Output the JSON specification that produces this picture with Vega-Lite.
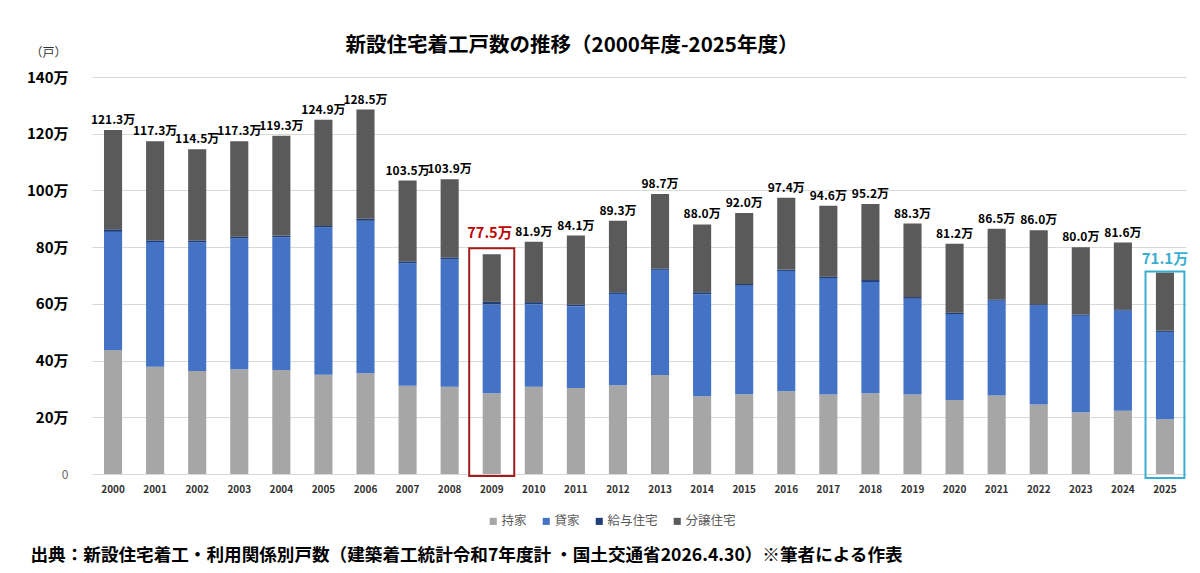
{
  "$schema": "https://vega.github.io/schema/vega-lite/v6.json",
  "autosize": {"type": "none"},
  "width": 1094,
  "height": 397,
  "padding": {"left": 92, "top": 77, "right": 14, "bottom": 99},
  "background": "white",
  "config": {
    "font": "Noto Sans CJK JP",
    "view": {"stroke": null}
  },
  "title": {
    "text": "新設住宅着工戸数の推移（2000年度-2025年度）",
    "fontSize": 20.5,
    "fontWeight": "bold",
    "color": "#000000",
    "anchor": "middle",
    "dx": -67,
    "offset": -30,
    "baseline": "bottom"
  },
  "datasets": {
    "segments": [
      {"year": "2000", "type": "持家", "value": 43.7}, {"year": "2000", "type": "貸家", "value": 41.7}, {"year": "2000", "type": "給与住宅", "value": 0.9}, {"year": "2000", "type": "分譲住宅", "value": 35.0},
      {"year": "2001", "type": "持家", "value": 37.8}, {"year": "2001", "type": "貸家", "value": 44.0}, {"year": "2001", "type": "給与住宅", "value": 0.6}, {"year": "2001", "type": "分譲住宅", "value": 34.9},
      {"year": "2002", "type": "持家", "value": 36.3}, {"year": "2002", "type": "貸家", "value": 45.4}, {"year": "2002", "type": "給与住宅", "value": 0.7}, {"year": "2002", "type": "分譲住宅", "value": 32.1},
      {"year": "2003", "type": "持家", "value": 36.9}, {"year": "2003", "type": "貸家", "value": 46.2}, {"year": "2003", "type": "給与住宅", "value": 0.6}, {"year": "2003", "type": "分譲住宅", "value": 33.6},
      {"year": "2004", "type": "持家", "value": 36.7}, {"year": "2004", "type": "貸家", "value": 46.8}, {"year": "2004", "type": "給与住宅", "value": 0.6}, {"year": "2004", "type": "分譲住宅", "value": 35.2},
      {"year": "2005", "type": "持家", "value": 35.0}, {"year": "2005", "type": "貸家", "value": 52.0}, {"year": "2005", "type": "給与住宅", "value": 0.5}, {"year": "2005", "type": "分譲住宅", "value": 37.4},
      {"year": "2006", "type": "持家", "value": 35.5}, {"year": "2006", "type": "貸家", "value": 53.8}, {"year": "2006", "type": "給与住宅", "value": 0.7}, {"year": "2006", "type": "分譲住宅", "value": 38.5},
      {"year": "2007", "type": "持家", "value": 31.1}, {"year": "2007", "type": "貸家", "value": 43.2}, {"year": "2007", "type": "給与住宅", "value": 0.7}, {"year": "2007", "type": "分譲住宅", "value": 28.5},
      {"year": "2008", "type": "持家", "value": 30.8}, {"year": "2008", "type": "貸家", "value": 44.9}, {"year": "2008", "type": "給与住宅", "value": 0.7}, {"year": "2008", "type": "分譲住宅", "value": 27.5},
      {"year": "2009", "type": "持家", "value": 28.5}, {"year": "2009", "type": "貸家", "value": 31.3}, {"year": "2009", "type": "給与住宅", "value": 0.9}, {"year": "2009", "type": "分譲住宅", "value": 16.8},
      {"year": "2010", "type": "持家", "value": 30.8}, {"year": "2010", "type": "貸家", "value": 29.1}, {"year": "2010", "type": "給与住宅", "value": 0.7}, {"year": "2010", "type": "分譲住宅", "value": 21.3},
      {"year": "2011", "type": "持家", "value": 30.3}, {"year": "2011", "type": "貸家", "value": 28.9}, {"year": "2011", "type": "給与住宅", "value": 0.6}, {"year": "2011", "type": "分譲住宅", "value": 24.3},
      {"year": "2012", "type": "持家", "value": 31.3}, {"year": "2012", "type": "貸家", "value": 32.2}, {"year": "2012", "type": "給与住宅", "value": 0.6}, {"year": "2012", "type": "分譲住宅", "value": 25.2},
      {"year": "2013", "type": "持家", "value": 34.9}, {"year": "2013", "type": "貸家", "value": 37.1}, {"year": "2013", "type": "給与住宅", "value": 0.5}, {"year": "2013", "type": "分譲住宅", "value": 26.2},
      {"year": "2014", "type": "持家", "value": 27.4}, {"year": "2014", "type": "貸家", "value": 36.0}, {"year": "2014", "type": "給与住宅", "value": 0.7}, {"year": "2014", "type": "分譲住宅", "value": 23.9},
      {"year": "2015", "type": "持家", "value": 28.1}, {"year": "2015", "type": "貸家", "value": 38.3}, {"year": "2015", "type": "給与住宅", "value": 0.6}, {"year": "2015", "type": "分譲住宅", "value": 25.0},
      {"year": "2016", "type": "持家", "value": 29.2}, {"year": "2016", "type": "貸家", "value": 42.4}, {"year": "2016", "type": "給与住宅", "value": 0.5}, {"year": "2016", "type": "分譲住宅", "value": 25.3},
      {"year": "2017", "type": "持家", "value": 28.0}, {"year": "2017", "type": "貸家", "value": 41.1}, {"year": "2017", "type": "給与住宅", "value": 0.5}, {"year": "2017", "type": "分譲住宅", "value": 25.0},
      {"year": "2018", "type": "持家", "value": 28.5}, {"year": "2018", "type": "貸家", "value": 39.2}, {"year": "2018", "type": "給与住宅", "value": 0.7}, {"year": "2018", "type": "分譲住宅", "value": 26.8},
      {"year": "2019", "type": "持家", "value": 28.0}, {"year": "2019", "type": "貸家", "value": 33.8}, {"year": "2019", "type": "給与住宅", "value": 0.6}, {"year": "2019", "type": "分譲住宅", "value": 25.9},
      {"year": "2020", "type": "持家", "value": 26.1}, {"year": "2020", "type": "貸家", "value": 30.3}, {"year": "2020", "type": "給与住宅", "value": 0.5}, {"year": "2020", "type": "分譲住宅", "value": 24.3},
      {"year": "2021", "type": "持家", "value": 27.7}, {"year": "2021", "type": "貸家", "value": 33.4}, {"year": "2021", "type": "給与住宅", "value": 0.5}, {"year": "2021", "type": "分譲住宅", "value": 24.9},
      {"year": "2022", "type": "持家", "value": 24.5}, {"year": "2022", "type": "貸家", "value": 34.9}, {"year": "2022", "type": "給与住宅", "value": 0.5}, {"year": "2022", "type": "分譲住宅", "value": 26.1},
      {"year": "2023", "type": "持家", "value": 21.8}, {"year": "2023", "type": "貸家", "value": 34.0}, {"year": "2023", "type": "給与住宅", "value": 0.5}, {"year": "2023", "type": "分譲住宅", "value": 23.7},
      {"year": "2024", "type": "持家", "value": 22.3}, {"year": "2024", "type": "貸家", "value": 35.3}, {"year": "2024", "type": "給与住宅", "value": 0.5}, {"year": "2024", "type": "分譲住宅", "value": 23.5},
      {"year": "2025", "type": "持家", "value": 19.3}, {"year": "2025", "type": "貸家", "value": 30.8}, {"year": "2025", "type": "給与住宅", "value": 0.4}, {"year": "2025", "type": "分譲住宅", "value": 20.6}
    ],
    "totals": [
      {"year": "2000", "total": 121.3}, {"year": "2001", "total": 117.3}, {"year": "2002", "total": 114.5}, {"year": "2003", "total": 117.3},
      {"year": "2004", "total": 119.3}, {"year": "2005", "total": 124.9}, {"year": "2006", "total": 128.5}, {"year": "2007", "total": 103.5},
      {"year": "2008", "total": 103.9}, {"year": "2009", "total": 77.5}, {"year": "2010", "total": 81.9}, {"year": "2011", "total": 84.1},
      {"year": "2012", "total": 89.3}, {"year": "2013", "total": 98.7}, {"year": "2014", "total": 88.0}, {"year": "2015", "total": 92.0},
      {"year": "2016", "total": 97.4}, {"year": "2017", "total": 94.6}, {"year": "2018", "total": 95.2}, {"year": "2019", "total": 88.3},
      {"year": "2020", "total": 81.2}, {"year": "2021", "total": 86.5}, {"year": "2022", "total": 86.0}, {"year": "2023", "total": 80.0},
      {"year": "2024", "total": 81.6}, {"year": "2025", "total": 71.1}
    ]
  },
  "encoding": {
    "x": {
      "field": "year",
      "type": "ordinal",
      "scale": {"paddingInner": 0.57, "paddingOuter": 0.285},
      "axis": {
        "labelAngle": 0,
        "labelFontSize": 10,
        "labelFontWeight": "bold",
        "labelColor": "#333333",
        "labelPadding": 10,
        "ticks": false,
        "domain": false,
        "grid": false,
        "title": "出典：新設住宅着工・利用関係別戸数（建築着工統計令和7年度計 ・国土交通省2026.4.30）※筆者による作表",
        "titleFontSize": 17.6,
        "titleFontWeight": "bold",
        "titleColor": "#000000",
        "titleAlign": "left",
        "titleAnchor": "start",
        "titleBaseline": "alphabetic",
        "titleX": -62,
        "titleY": 86
      }
    }
  },
  "layer": [
    {
      "data": {"name": "segments"},
      "transform": [
        {"calculate": "indexof(['持家','貸家','給与住宅','分譲住宅'], datum.type)", "as": "k"}
      ],
      "mark": {"type": "bar"},
      "encoding": {
        "y": {
          "field": "value",
          "type": "quantitative",
          "stack": "zero",
          "scale": {"domain": [0, 140]},
          "axis": {
            "values": [0, 20, 40, 60, 80, 100, 120, 140],
            "labelExpr": "datum.value == 0 ? '0' : datum.value + '万'",
            "labelFontSize": {"condition": {"test": "datum.value == 0", "value": 12}, "value": 15},
            "labelFontWeight": {"condition": {"test": "datum.value == 0", "value": "normal"}, "value": "bold"},
            "labelColor": {"condition": {"test": "datum.value == 0", "value": "#666666"}, "value": "#000000"},
            "labelPadding": 24,
            "ticks": false,
            "domain": false,
            "gridColor": "#d9d9d9",
            "gridWidth": 1,
            "title": "（戸）",
            "titleAngle": 0,
            "titleFontSize": 12,
            "titleFontWeight": "normal",
            "titleColor": "#333333",
            "titleAlign": "center",
            "titleBaseline": "middle",
            "titleX": -44,
            "titleY": -25
          }
        },
        "color": {
          "field": "type",
          "type": "nominal",
          "sort": ["持家", "貸家", "給与住宅", "分譲住宅"],
          "scale": {
            "domain": ["持家", "貸家", "給与住宅", "分譲住宅"],
            "range": ["#a6a6a6", "#4472c4", "#1f3f7a", "#5a5a5a"]
          },
          "legend": {
            "title": null,
            "orient": "none",
            "direction": "horizontal",
            "legendX": 395,
            "legendY": 438,
            "symbolType": "square",
            "symbolSize": 50,
            "symbolStrokeWidth": 0,
            "labelFontSize": 12.5,
            "labelColor": "#595959",
            "labelOffset": 2,
            "columnPadding": 13
          }
        },
        "order": {"field": "k", "type": "quantitative", "sort": "ascending"}
      }
    },
    {
      "data": {"name": "totals"},
      "transform": [
        {"filter": "datum.year != '2009' && datum.year != '2025'"},
        {"calculate": "format(datum.total, '.1f') + '万'", "as": "label"}
      ],
      "mark": {"type": "text", "baseline": "bottom", "dy": -3, "fontSize": 12, "fontWeight": "bold", "color": "#000000"},
      "encoding": {
        "y": {"field": "total", "type": "quantitative"},
        "text": {"field": "label", "type": "nominal"}
      }
    },
    {
      "data": {"name": "totals"},
      "transform": [
        {"filter": "datum.year == '2009'"},
        {"calculate": "format(datum.total, '.1f') + '万'", "as": "label"}
      ],
      "mark": {"type": "text", "baseline": "bottom", "dy": -13, "dx": -2, "fontSize": 14.5, "fontWeight": "bold", "color": "#c00000"},
      "encoding": {
        "y": {"field": "total", "type": "quantitative"},
        "text": {"field": "label", "type": "nominal"}
      }
    },
    {
      "data": {"name": "totals"},
      "transform": [
        {"filter": "datum.year == '2025'"},
        {"calculate": "format(datum.total, '.1f') + '万'", "as": "label"}
      ],
      "mark": {"type": "text", "baseline": "bottom", "dy": -5, "fontSize": 15, "fontWeight": "bold", "color": "#3aaed0"},
      "encoding": {
        "y": {"field": "total", "type": "quantitative"},
        "text": {"field": "label", "type": "nominal"}
      }
    },
    {
      "data": {"name": "totals"},
      "transform": [{"filter": "datum.year == '2009'"}],
      "mark": {"type": "bar", "fill": null, "fillOpacity": 0, "stroke": "#a01c1c", "strokeWidth": 2, "width": {"band": 2.49}, "yOffset": -6, "y2Offset": 2},
      "encoding": {
        "y": {"field": "total", "type": "quantitative"},
        "y2": {"datum": 0}
      }
    },
    {
      "data": {"name": "totals"},
      "transform": [{"filter": "datum.year == '2025'"}],
      "mark": {"type": "bar", "fill": null, "fillOpacity": 0, "stroke": "#3aaed0", "strokeWidth": 2, "width": {"band": 2.15}, "yOffset": -1, "y2Offset": 4},
      "encoding": {
        "y": {"field": "total", "type": "quantitative"},
        "y2": {"datum": 0}
      }
    }
  ]
}
